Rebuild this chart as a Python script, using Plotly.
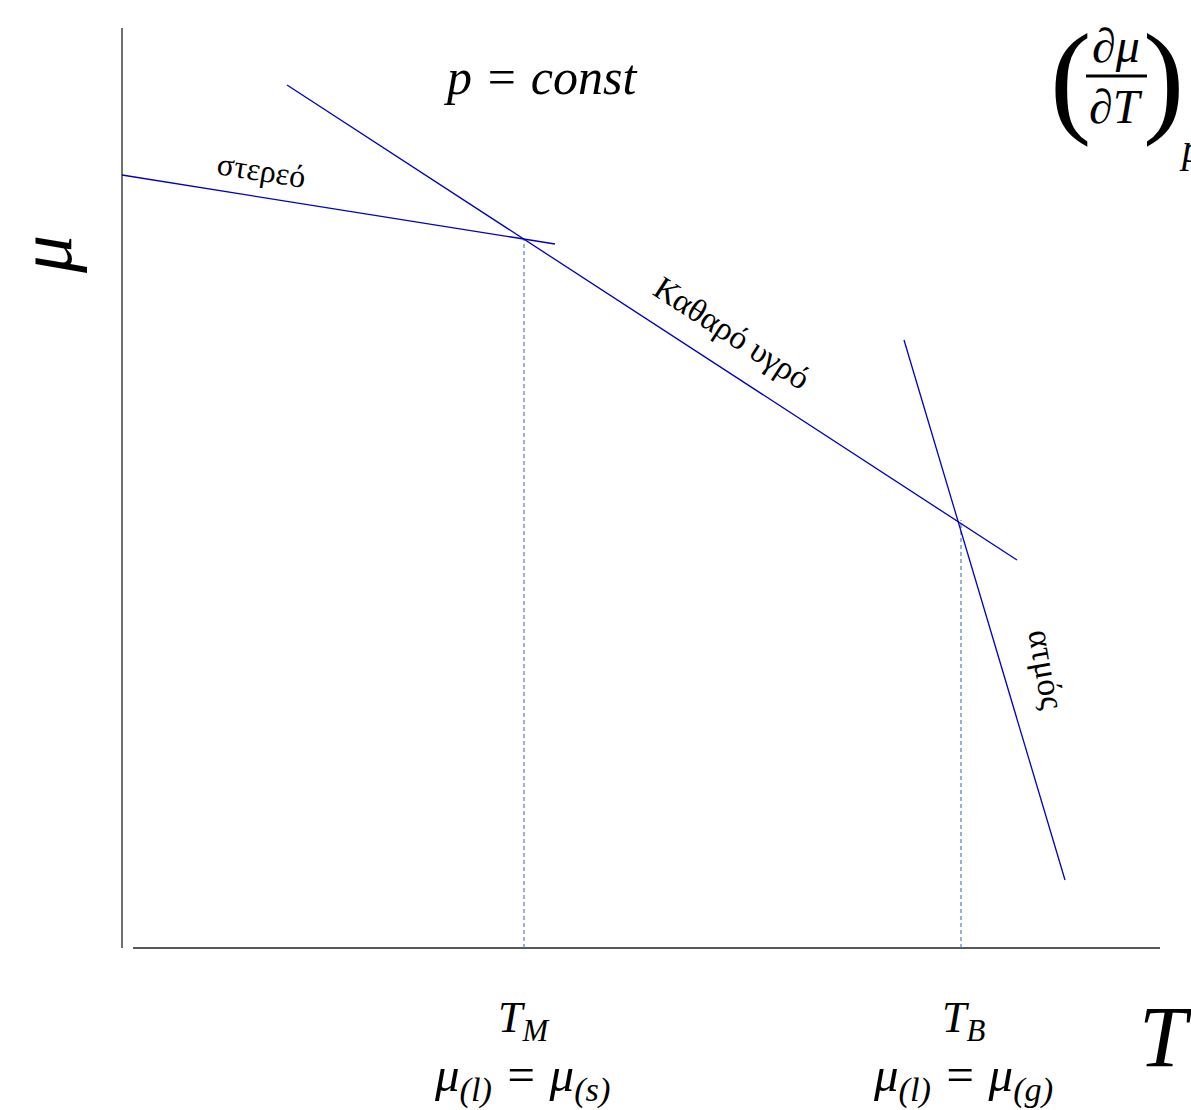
import plotly.graph_objects as go

# Coordinates (T to the right, mu upward)
solid_T = [122, 555]
solid_mu = [935, 866]
liquid_T = [287, 1017]
liquid_mu = [1025, 550]
gas_T = [904, 1065]
gas_mu = [770, 230]

T_M = 524
mu_M = 870
T_B = 961
mu_B = 590

axis_T0 = 122
axis_mu_top = 1082
axis_mu0 = 162
axis_T_end = 1160

LINE = "#0000C0"
DASH = "#4472C4"
SERIF = "Liberation Serif, DejaVu Serif, serif"
H = 1110

fig = go.Figure()

# axes
fig.add_trace(go.Scatter(x=[axis_T0, axis_T0], y=[axis_mu0, axis_mu_top], mode="lines",
                         line=dict(color="#222222", width=1.3), hoverinfo="skip"))
fig.add_trace(go.Scatter(x=[133, axis_T_end], y=[axis_mu0, axis_mu0], mode="lines",
                         line=dict(color="#222222", width=1.3), hoverinfo="skip"))
# dashed verticals
fig.add_trace(go.Scatter(x=[T_M, T_M], y=[axis_mu0, mu_M], mode="lines",
                         line=dict(color=DASH, width=1.1, dash="4px,3px"), hoverinfo="skip"))
fig.add_trace(go.Scatter(x=[T_B, T_B], y=[axis_mu0, mu_B], mode="lines",
                         line=dict(color=DASH, width=1.1, dash="4px,3px"), hoverinfo="skip"))
# phases
for xs, ys in [(solid_T, solid_mu), (liquid_T, liquid_mu), (gas_T, gas_mu)]:
    fig.add_trace(go.Scatter(x=xs, y=ys, mode="lines",
                             line=dict(color=LINE, width=1.3), hoverinfo="skip"))

ann = []
def A(x, y, text, size, angle=0, italic=False, xanchor="center", yanchor="middle"):
    t = f"<i>{text}</i>" if italic else text
    ann.append(dict(x=x, y=y, xref="x", yref="y", text=t, showarrow=False,
                    textangle=angle, xanchor=xanchor, yanchor=yanchor,
                    font=dict(family=SERIF, size=size, color="black")))

A(540, H - 77, "p = const", 50, italic=True)
A(261, H - 170, "στερεό", 32, angle=9)
A(732, H - 333, "Καθαρό υγρό", 33, angle=33)
A(1047, H - 669, "ατμός", 34, angle=80)
A(45, H - 255, "μ", 76, angle=-90, italic=True)
A(1165, H - 1037, "T", 86, italic=True)
A(524, H - 1020, "T<sub>M</sub>", 44, italic=True)
A(522, H - 1078, "μ<sub>(l)</sub> = μ<sub>(s)</sub>", 49, italic=True)
A(963, H - 1020, "T<sub>B</sub>", 44, italic=True)
A(963, H - 1078, "μ<sub>(l)</sub> = μ<sub>(g)</sub>", 49, italic=True)

# derivative formula, top right
A(1116, H - 45, "∂μ", 48, italic=True)
A(1116, H - 106, "∂T", 48, italic=True)
A(1070, H - 78, "(", 124)
A(1163, H - 78, ")", 124)
A(1177, H - 148, "p", 40, italic=True, xanchor="left")
fig.add_trace(go.Scatter(x=[1086, 1147], y=[H - 76, H - 76], mode="lines",
                         line=dict(color="black", width=3), hoverinfo="skip"))

fig.update_layout(
    width=1191, height=1110, margin=dict(l=0, r=0, t=0, b=0),
    paper_bgcolor="white", plot_bgcolor="white", showlegend=False,
    xaxis=dict(range=[0, 1191], visible=False, fixedrange=True),
    yaxis=dict(range=[0, 1110], visible=False, fixedrange=True),
    annotations=ann,
)
fig.write_html("out.html")
